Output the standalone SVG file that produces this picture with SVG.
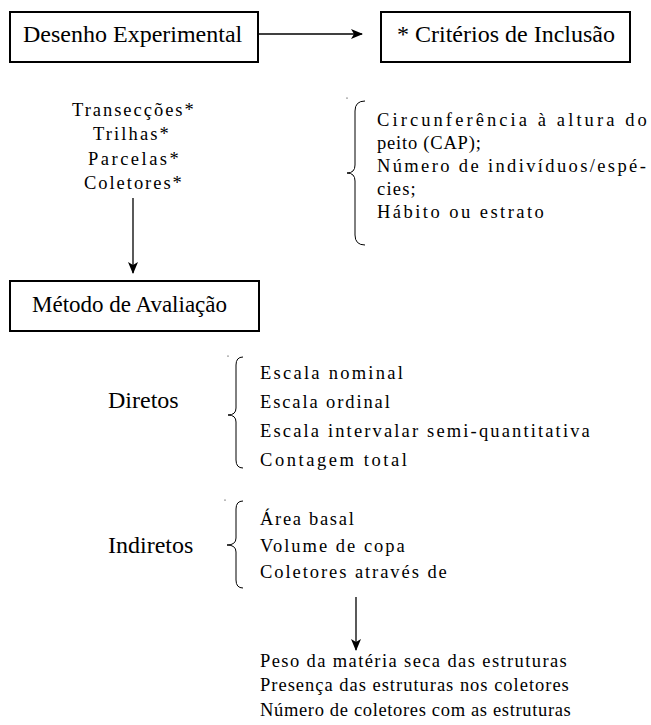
<svg xmlns="http://www.w3.org/2000/svg" width="651" height="725" viewBox="0 0 651 725">
<defs>
<style>
.box{fill:#fff;stroke:#000;stroke-width:2}
.big{font-family:'Liberation Serif','Times New Roman',serif;font-size:24px;fill:#000}
.sp{font-family:'Liberation Serif','Times New Roman',serif;font-size:18.5px;letter-spacing:1.2px;fill:#000}
.ln{fill:none;stroke:#000;stroke-width:1.3}
.br{fill:none;stroke:#000;stroke-width:1}
</style>
<marker id="ah" viewBox="0 0 12 10" refX="11" refY="5" markerWidth="12" markerHeight="10" markerUnits="userSpaceOnUse" orient="auto">
<path d="M0,0 L12,5 L0,10 L3,5 Z" fill="#000"/>
</marker>
</defs>
<rect width="651" height="725" fill="#fff"/>
<g id="desenho">
<rect class="box" x="10" y="12" width="248" height="50"/>
<text class="big" x="23" y="42">Desenho Experimental</text>
</g>
<g id="criterios">
<rect class="box" x="381" y="12" width="249" height="50"/>
<text class="big" x="397" y="42">* Critérios de Inclusão</text>
</g>
<g id="tipos">
<text class="sp" x="72" y="116" textLength="123" lengthAdjust="spacing">Transecções*</text>
<text class="sp" x="93" y="140" textLength="77" lengthAdjust="spacing">Trilhas*</text>
<text class="sp" x="88" y="165" textLength="92" lengthAdjust="spacing">Parcelas*</text>
<text class="sp" x="84" y="189" textLength="99" lengthAdjust="spacing">Coletores*</text>
</g>
<g id="criterios-lista">
<circle cx="347" cy="98" r="0.6" fill="#000"/>
<path class="br" d="M365,101 Q355,101 355,111 L355,165 Q355,173 347,173 Q355,173 355,181 L355,235 Q355,245 365,245"/>
<text class="sp" x="377" y="126" textLength="271" lengthAdjust="spacing">Circunferência à altura do</text>
<text class="sp" x="377" y="149" textLength="105" lengthAdjust="spacing">peito (CAP);</text>
<text class="sp" x="377" y="172" textLength="270" lengthAdjust="spacing">Número de indivíduos/espé-</text>
<text class="sp" x="377" y="195">cies;</text>
<text class="sp" x="377" y="218" textLength="168" lengthAdjust="spacing">Hábito ou estrato</text>
</g>
<g id="metodo">
<rect class="box" x="10" y="281" width="249" height="50"/>
<text class="big" x="32" y="312" style="font-size:23px">Método de Avaliação</text>
</g>
<g id="diretos">
<text class="big" x="108" y="408">Diretos</text>
<circle cx="228" cy="356" r="0.6" fill="#000"/>
<path class="br" d="M243,357 Q236,357 236,365 L236,408 Q236,415 228,415 Q236,415 236,422 L236,460 Q236,468 243,468"/>
<text class="sp" x="260" y="379" textLength="144" lengthAdjust="spacing">Escala nominal</text>
<text class="sp" x="260" y="408" textLength="131" lengthAdjust="spacing">Escala ordinal</text>
<text class="sp" x="260" y="437" textLength="331" lengthAdjust="spacing">Escala intervalar semi-quantitativa</text>
<text class="sp" x="260" y="466" textLength="148" lengthAdjust="spacing">Contagem total</text>
</g>
<g id="indiretos">
<text class="big" x="108" y="553">Indiretos</text>
<circle cx="225" cy="500" r="0.6" fill="#000"/>
<path class="br" d="M243,501 Q236,501 236,509 L236,538 Q236,545 227,545 Q236,545 236,552 L236,580 Q236,588 243,588"/>
<text class="sp" x="260" y="525" textLength="95" lengthAdjust="spacing">Área basal</text>
<text class="sp" x="260" y="552" textLength="146" lengthAdjust="spacing">Volume de copa</text>
<text class="sp" x="260" y="578" textLength="188" lengthAdjust="spacing">Coletores através de</text>
</g>
<g id="estruturas">
<text class="sp" x="260" y="667" textLength="308" lengthAdjust="spacing">Peso da matéria seca das estruturas</text>
<text class="sp" x="260" y="691" textLength="310" lengthAdjust="spacing">Presença das estruturas nos coletores</text>
<text class="sp" x="260" y="716" textLength="312" lengthAdjust="spacing">Número de coletores com as estruturas</text>
</g>
<g id="connectors">
<line class="ln" x1="259" y1="34" x2="362" y2="34" marker-end="url(#ah)"/>
<line class="ln" x1="133" y1="198" x2="133" y2="273" marker-end="url(#ah)"/>
<line class="ln" x1="356" y1="597" x2="356" y2="650" marker-end="url(#ah)"/>
</g>
</svg>
